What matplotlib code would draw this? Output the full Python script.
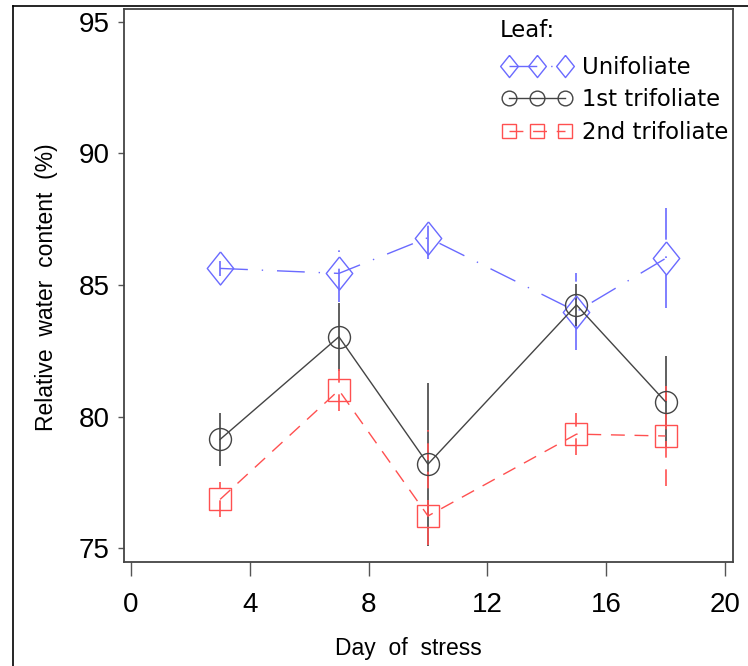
import numpy as np
from matplotlib import pyplot as plt
from matplotlib.lines import Line2D

# data
days = [3, 7, 10, 15, 18]
unifoliate = [85.63, 85.44, 86.80, 83.99, 86.01]
unifoliate_err = [0.3, 1.1, 0.8, 1.45, 1.9]
trif1 = [79.13, 83.03, 78.19, 84.24, 80.56]
trif1_err = [1.0, 1.3, 3.1, 0.8, 1.75]
trif2 = [76.85, 81.00, 76.22, 79.33, 79.26]
trif2_err_low = [0.67, 0.8, 1.1, 0.8, 1.9]
trif2_err_high = [0.67, 0.8, 3.27, 0.8, 1.9]
series_names = ['Unifoliate', '1st trifoliate', '2nd trifoliate']

xticks = [0, 4, 8, 12, 16, 20]
yticks = [75, 80, 85, 90, 95]

W, H = 748, 666
fig = plt.figure(figsize=(W / 100, H / 100), dpi=100)
ax = fig.add_axes([124 / W, 1 - 562 / H, (733 - 124) / W, (562 - 9) / H])

diamond = [(0, 1), (0.8, 0), (0, -1), (-0.8, 0), (0, 1)]

styles = [
    dict(color='#6a6aff', marker=diamond, ms=23.8, dashes=(20, 10, 1, 10)),
    dict(color='#444444', marker='o', ms=15.8, dashes=None),
    dict(color='#ff5050', marker='s', ms=15.6, dashes=(10, 7)),
]
data = [(unifoliate, unifoliate_err), (trif1, trif1_err),
        (trif2, [trif2_err_low, trif2_err_high])]

handles = []
for (vals, errs), st, name in zip(data, styles, series_names):
    cont = ax.errorbar(days, vals, yerr=errs, color=st['color'], ecolor=st['color'],
                       marker=st['marker'], ms=st['ms'], mfc='none', mec=st['color'],
                       mew=1.0, lw=1.0, elinewidth=1.2, capsize=0, label=name)
    line = cont[0]
    if st['dashes'] is not None:
        line.set_dashes(st['dashes'])
        cont[2][0].set_linestyle((0, st['dashes']))
    handles.append(line)

ax.set_xlim(-0.236, 20.27)
ax.set_ylim(74.47, 95.49)
ax.set_xticks(xticks)
ax.set_yticks(yticks)
ax.set_xticklabels([str(t) for t in xticks], fontfamily='Liberation Sans', fontsize=20)
ax.set_yticklabels([str(t) for t in yticks], fontfamily='Liberation Sans', fontsize=20)
ax.tick_params(axis='x', direction='out', length=10, width=1, color='#555555', pad=11.5)
ax.tick_params(axis='y', direction='out', length=4.5, width=1, color='#555555', pad=6)
for sp in ax.spines.values():
    sp.set_color('#444444')
    sp.set_linewidth(1.3)

fig.text(408 / W, 1 - 655 / H, 'Day  of  stress', ha='center', va='baseline',
         fontfamily='Liberation Sans', fontsize=16.5)
fig.text(47 / W, 1 - 287 / H, 'Relative  water  content  (%)', ha='center', va='center',
         rotation=90, fontfamily='Liberation Sans', fontsize=16.5)

# legend title and entries
fig.text(500 / W, 1 - 36.7 / H, 'Leaf:', ha='left', va='baseline',
         fontfamily='DejaVu Sans', fontsize=16.4)
leg = ax.legend(handles=handles, labels=series_names, loc='upper left',
                bbox_to_anchor=(502 / W, 1 - 56 / H), bbox_transform=fig.transFigure,
                frameon=False, numpoints=3, markerscale=0.67, handlelength=3.06,
                handletextpad=0.45, labelspacing=0.41, borderpad=0, borderaxespad=0,
                prop={'family': 'DejaVu Sans', 'size': 16.4})

# outer frame (left and top edges)
fig.add_artist(Line2D([12.5 / W, 12.5 / W], [0, 1 - 6 / H], color='black', lw=1.2,
                      transform=fig.transFigure))
fig.add_artist(Line2D([12.5 / W, 1], [1 - 6 / H, 1 - 6 / H], color='black', lw=1.2,
                      transform=fig.transFigure))

plt.savefig('out.png', dpi=100)
